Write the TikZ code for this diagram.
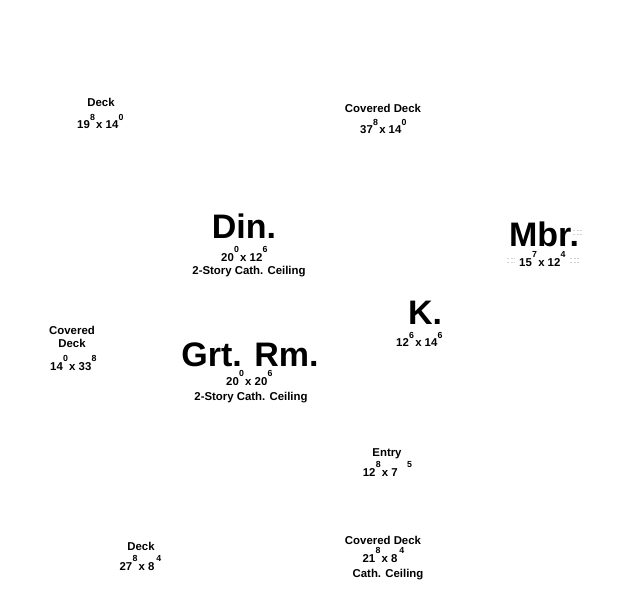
\documentclass[tikz,border=0pt]{standalone}
\usepackage{fontspec}
\setmainfont{Liberation Sans}
\newcommand\dsup[1]{\kern0.3pt\raisebox{8.5pt}{\fontsize{8.8}{9}\selectfont #1}\kern1.2pt}
\begin{document}
\begin{tikzpicture}[x=1pt,y=-1pt,
  lbl/.style={font=\bfseries\fontsize{11.4}{13}\selectfont, inner sep=0pt, anchor=base},
  big/.style={font=\bfseries\fontsize{34}{40}\selectfont, inner sep=0pt, anchor=base, text depth=0pt},
  faint/.style={gray!35, line width=0.6pt, dash pattern=on 2pt off 1.5pt}]
\useasboundingbox[fill=white] (0,0) rectangle (629,615);
% top-left deck
\node[lbl] (deckA) at (101,107) {Deck};
\node[lbl] (deckAdim) at (101,129) {19\dsup{8}x 14\dsup{0}};
% top covered deck
\node[lbl] (cdA) at (383,113) {Covered Deck};
\node[lbl] (cdAdim) at (384,134) {37\dsup{8}x 14\dsup{0}};
% dining
\node[big] (din) at (244,238) {Din.};
\node[lbl] (dindim) at (245,261) {20\dsup{0}x 12\dsup{6}};
\node[lbl] (dinceil) at (249,274) {2-Story Cath. Ceiling};
% master bedroom
\node[big] (mbr) at (544,246) {Mbr.};
\node[lbl] (mbrdim) at (543,266) {15\dsup{7}x 12\dsup{4}};
% kitchen
\node[big] (k) at (425,324) {K.};
\node[lbl] (kdim) at (420,346.5) {12\dsup{6}x 14\dsup{6}};
% left covered deck
\node[lbl] (cdL1) at (72,334.5) {Covered};
\node[lbl] (cdL2) at (72,347.5) {Deck};
\node[lbl] (cdLdim) at (74,370) {14\dsup{0}x 33\dsup{8}};
% great room
\node[big] (grt) at (250,366) {Grt. Rm.};
\node[lbl] (grtdim) at (250,385) {20\dsup{0}x 20\dsup{6}};
\node[lbl] (grtceil) at (251,400) {2-Story Cath. Ceiling};
% entry
\node[lbl] (entry) at (387,456) {Entry};
\node[lbl] (entrydim) at (388,476) {12\dsup{8}x 7\hspace{9pt}\dsup{5}};
% bottom covered deck
\node[lbl] (cdB) at (383,544) {Covered Deck};
\node[lbl] (cdBdim) at (384,562) {21\dsup{8}x 8\hspace{1.5pt}\dsup{4}};
\node[lbl] (cdBceil) at (388,577) {Cath. Ceiling};
% bottom deck
\node[lbl] (deckB) at (141,550) {Deck};
\node[lbl] (deckBdim) at (141,570) {27\dsup{8}x 8\hspace{1.5pt}\dsup{4}};
% faint marks
\draw[faint] (573,230) -- (582,230);
\draw[faint] (573,234) -- (582,234);
\draw[faint] (507,258) -- (515,258);
\draw[faint] (507,262) -- (515,262);
\draw[faint] (570,258) -- (580,258);
\draw[faint] (570,262) -- (580,262);
\end{tikzpicture}
\end{document}
